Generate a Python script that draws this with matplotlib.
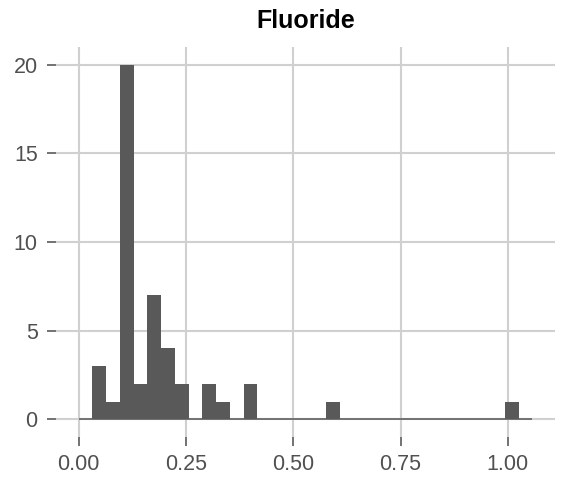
import numpy as np
import matplotlib
matplotlib.use("Agg")
import matplotlib.pyplot as plt

# Histogram data
bin_start = 0.0
bin_width = 0.03203
counts = [0, 3, 1, 20, 2, 7, 4, 2, 0, 2, 1, 0, 2, 0, 0, 0, 0, 0, 1,
          0, 0, 0, 0, 0, 0, 0, 0, 0, 0, 0, 0, 1, 0]
x_ticks = [0.0, 0.25, 0.5, 0.75, 1.0]
x_tick_labels = ["0.00", "0.25", "0.50", "0.75", "1.00"]
y_ticks = [0, 5, 10, 15, 20]
title = "Fluoride"

plt.rcParams['font.family'] = ['Liberation Sans', 'DejaVu Sans']

fig = plt.figure(figsize=(5.62, 4.78), dpi=100)
W, H = 562, 478
ax = fig.add_axes([56 / W, (H - 437) / H, (555 - 56) / W, (437 - 47) / H])

edges = bin_start + bin_width * np.arange(len(counts) + 1)
bar_color = "#595959"
ax.bar(edges[:-1], counts, width=bin_width, align="edge", color=bar_color,
       linewidth=0, zorder=3)
ax.plot([edges[0], edges[-1]], [0, 0], color=bar_color, linewidth=1.1,
        solid_capstyle="butt", zorder=3)

span = edges[-1] - edges[0]
ax.set_xlim(edges[0] - 0.05 * span, edges[-1] + 0.05 * span)
ymax = max(counts)
ax.set_ylim(-0.05 * ymax, ymax * 1.05)

ax.set_xticks(x_ticks)
ax.set_xticklabels(x_tick_labels)
ax.set_yticks(y_ticks)

for s in ax.spines.values():
    s.set_visible(False)
ax.grid(True, color="#d0d0d0", linewidth=1.5, zorder=0)
ax.set_axisbelow(True)
ax.set_facecolor("white")

ax.tick_params(axis="both", colors="#5a5a5a", labelcolor="#505050",
               labelsize=15.5, length=6.2, width=1.2)
ax.tick_params(axis="x", pad=6)
ax.tick_params(axis="y", pad=7)

ax.set_title(title, fontsize=18, fontweight="bold", pad=13.5, color="black")

fig.savefig("out.png", dpi=100)
